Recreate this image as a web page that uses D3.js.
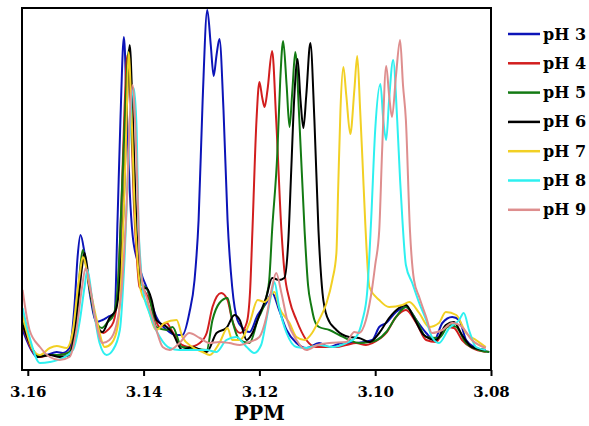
<!DOCTYPE html>
<html>
<head>
<meta charset="utf-8">
<script src="https://cdn.jsdelivr.net/npm/d3@7"></script>
<style>
  body { margin: 0; background: #fff; }
  svg text { font-family: "DejaVu Serif", serif; font-weight: bold; fill: #000; }
</style>
</head>
<body>
<div id="chart"></div>
<script>
// ----------------------------
// Data: [ppm, intensity]
// ----------------------------
var labels = ["pH 3", "pH 4", "pH 5", "pH 6", "pH 7", "pH 8", "pH 9"];
var colors = ["#0c14b8", "#d21e1e", "#137a13", "#000000", "#f2d024", "#2ef0f0", "#de8e8e"];
var xTicks = [3.16, 3.14, 3.12, 3.10, 3.08];

var pH3 = [[3.1609,40],[3.1591,17],[3.1584,13],[3.1567,15],[3.1550,18],[3.1540,17],[3.1528,22],[3.1519,67],[3.1514,113],[3.1509,135],[3.1502,117],[3.1493,77],[3.1481,48],[3.1471,50],[3.1462,53],[3.1450,57],[3.1445,150],[3.1440,250],[3.1434,333],[3.1429,260],[3.1424,180],[3.1419,135],[3.1410,108],[3.1402,93],[3.1395,83],[3.1378,53],[3.1360,40],[3.1343,35],[3.1333,35],[3.1321,57],[3.1312,90],[3.1305,150],[3.1298,270],[3.1290,360],[3.1284,325],[3.1279,294],[3.1274,315],[3.1269,331],[3.1262,260],[3.1255,150],[3.1247,83],[3.1238,50],[3.1229,42],[3.1217,38],[3.1203,55],[3.1188,67],[3.1178,77],[3.1166,60],[3.1153,40],[3.1136,27],[3.1119,22],[3.1097,27],[3.1079,23],[3.1057,27],[3.1033,27],[3.1005,30],[3.0993,43],[3.0981,47],[3.0964,58],[3.0947,63],[3.0929,50],[3.0912,37],[3.0898,30],[3.0884,47],[3.0867,53],[3.0855,50],[3.0843,30],[3.0826,22],[3.0803,18]];

var pH4 = [[3.1609,45],[3.1591,18],[3.1579,13],[3.1562,15],[3.1545,15],[3.1528,18],[3.1516,55],[3.1507,105],[3.1503,115],[3.1497,95],[3.1488,65],[3.1478,40],[3.1469,37],[3.1462,40],[3.1452,48],[3.1445,75],[3.1438,170],[3.1433,260],[3.1428,315],[3.1422,260],[3.1417,170],[3.1412,115],[3.1407,83],[3.1400,80],[3.1390,70],[3.1372,43],[3.1360,47],[3.1352,40],[3.1338,27],[3.1321,23],[3.1303,27],[3.1291,37],[3.1281,63],[3.1266,77],[3.1255,70],[3.1247,50],[3.1240,40],[3.1233,37],[3.1222,47],[3.1216,80],[3.1212,140],[3.1205,250],[3.1200,288],[3.1195,272],[3.1191,263],[3.1186,280],[3.1178,319],[3.1171,250],[3.1162,140],[3.1157,100],[3.1148,70],[3.1136,50],[3.1119,30],[3.1102,23],[3.1084,23],[3.1067,23],[3.1050,25],[3.1033,27],[3.1016,25],[3.1005,27],[3.0981,37],[3.0964,53],[3.0947,60],[3.0929,47],[3.0912,30],[3.0895,28],[3.0878,43],[3.0864,42],[3.0850,30],[3.0833,22],[3.0809,18]];

var pH5 = [[3.1609,48],[3.1591,20],[3.1579,14],[3.1562,15],[3.1545,15],[3.1528,18],[3.1516,55],[3.1509,105],[3.1505,120],[3.1498,100],[3.1490,70],[3.1479,45],[3.1472,42],[3.1462,48],[3.1452,55],[3.1445,80],[3.1438,170],[3.1431,270],[3.1426,320],[3.1421,260],[3.1416,170],[3.1410,115],[3.1405,87],[3.1393,80],[3.1378,43],[3.1360,40],[3.1350,43],[3.1334,23],[3.1316,22],[3.1291,20],[3.1281,50],[3.1269,67],[3.1255,72],[3.1247,50],[3.1234,30],[3.1217,27],[3.1203,50],[3.1188,73],[3.1183,90],[3.1178,140],[3.1169,217],[3.1164,290],[3.1159,329],[3.1153,285],[3.1148,243],[3.1143,280],[3.1138,318],[3.1131,250],[3.1122,140],[3.1116,85],[3.1110,63],[3.1105,50],[3.1097,43],[3.1079,40],[3.1062,35],[3.1045,30],[3.1028,27],[3.1010,28],[3.0997,30],[3.0981,38],[3.0964,53],[3.0947,63],[3.0929,50],[3.0912,33],[3.0890,32],[3.0872,45],[3.0860,43],[3.0843,27],[3.0821,20],[3.0803,18]];

var pH6 = [[3.1609,45],[3.1591,20],[3.1583,13],[3.1562,15],[3.1545,13],[3.1528,15],[3.1516,50],[3.1507,100],[3.1502,117],[3.1493,83],[3.1479,43],[3.1471,38],[3.1459,52],[3.1448,60],[3.1441,90],[3.1434,170],[3.1429,260],[3.1424,325],[3.1419,260],[3.1414,170],[3.1409,105],[3.1404,80],[3.1395,82],[3.1386,70],[3.1378,50],[3.1360,43],[3.1350,37],[3.1333,20],[3.1316,23],[3.1291,18],[3.1274,37],[3.1257,42],[3.1243,55],[3.1234,50],[3.1222,30],[3.1212,37],[3.1200,55],[3.1188,73],[3.1178,92],[3.1166,90],[3.1157,92],[3.1150,130],[3.1145,200],[3.1140,270],[3.1134,311],[3.1129,270],[3.1124,242],[3.1119,275],[3.1112,327],[3.1105,250],[3.1098,140],[3.1091,77],[3.1083,53],[3.1067,40],[3.1045,33],[3.1028,32],[3.1010,28],[3.0993,37],[3.0976,52],[3.0959,62],[3.0947,65],[3.0933,52],[3.0916,35],[3.0895,30],[3.0878,45],[3.0864,48],[3.0850,35],[3.0833,23],[3.0809,20]];

var pH7 = [[3.1609,55],[3.1591,20],[3.1579,15],[3.1562,22],[3.1550,24],[3.1533,22],[3.1522,40],[3.1514,80],[3.1510,97],[3.1505,113],[3.1493,83],[3.1481,50],[3.1467,23],[3.1455,27],[3.1445,43],[3.1438,100],[3.1433,180],[3.1429,260],[3.1426,318],[3.1421,260],[3.1416,170],[3.1410,105],[3.1405,80],[3.1395,67],[3.1378,40],[3.1364,47],[3.1343,50],[3.1333,33],[3.1316,23],[3.1298,18],[3.1286,15],[3.1269,27],[3.1255,42],[3.1247,30],[3.1234,30],[3.1217,47],[3.1203,70],[3.1191,68],[3.1174,78],[3.1166,63],[3.1148,47],[3.1136,33],[3.1122,30],[3.1109,37],[3.1097,50],[3.1084,67],[3.1074,90],[3.1067,117],[3.1064,180],[3.1060,260],[3.1055,303],[3.1050,275],[3.1043,236],[3.1036,280],[3.1031,314],[3.1026,260],[3.1022,210],[3.1017,145],[3.1010,83],[3.0993,70],[3.0976,63],[3.0953,65],[3.0941,68],[3.0924,57],[3.0907,43],[3.0890,47],[3.0878,58],[3.0860,55],[3.0843,37],[3.0826,30],[3.0809,23]];

var pH8 = [[3.1609,62],[3.1597,33],[3.1579,7],[3.1562,8],[3.1540,12],[3.1522,20],[3.1510,50],[3.1502,83],[3.1497,100],[3.1488,67],[3.1476,27],[3.1464,15],[3.1453,20],[3.1441,40],[3.1433,110],[3.1426,210],[3.1422,260],[3.1417,282],[3.1412,240],[3.1409,150],[3.1405,105],[3.1402,83],[3.1390,57],[3.1372,33],[3.1355,22],[3.1338,20],[3.1316,20],[3.1291,20],[3.1274,18],[3.1257,30],[3.1240,33],[3.1222,23],[3.1209,17],[3.1197,25],[3.1188,50],[3.1179,77],[3.1174,88],[3.1166,63],[3.1153,37],[3.1136,23],[3.1119,22],[3.1097,25],[3.1074,23],[3.1050,27],[3.1033,33],[3.1022,50],[3.1014,77],[3.1007,150],[3.1000,240],[3.0991,286],[3.0986,250],[3.0981,230],[3.0976,270],[3.0969,310],[3.0962,250],[3.0957,190],[3.0953,150],[3.0947,105],[3.0936,87],[3.0924,67],[3.0912,50],[3.0902,33],[3.0890,27],[3.0872,42],[3.0855,50],[3.0847,57],[3.0838,40],[3.0826,23],[3.0809,20]];

var pH9 = [[3.1609,80],[3.1597,40],[3.1579,23],[3.1562,13],[3.1545,10],[3.1528,13],[3.1516,40],[3.1507,80],[3.1500,102],[3.1493,85],[3.1483,50],[3.1471,27],[3.1459,30],[3.1447,45],[3.1438,80],[3.1429,170],[3.1424,250],[3.1419,285],[3.1414,240],[3.1410,170],[3.1407,115],[3.1402,87],[3.1395,73],[3.1378,40],[3.1367,23],[3.1355,20],[3.1338,27],[3.1321,37],[3.1303,32],[3.1286,27],[3.1269,28],[3.1252,27],[3.1234,25],[3.1217,28],[3.1200,33],[3.1188,53],[3.1178,83],[3.1171,97],[3.1162,77],[3.1152,50],[3.1136,30],[3.1119,20],[3.1100,25],[3.1079,27],[3.1050,28],[3.1036,38],[3.1028,37],[3.1016,50],[3.1005,83],[3.1000,105],[3.0993,140],[3.0988,220],[3.0981,304],[3.0976,275],[3.0971,253],[3.0964,295],[3.0957,330],[3.0952,285],[3.0947,250],[3.0940,140],[3.0933,90],[3.0924,73],[3.0912,53],[3.0902,37],[3.0884,40],[3.0867,47],[3.0850,43],[3.0833,30],[3.0809,22]];

var spectra = [pH3, pH4, pH5, pH6, pH7, pH8, pH9];

// ----------------------------
// Layout
// ----------------------------
var W = 589, H = 426;
var plot = { left: 22, right: 491, top: 8, bottom: 370 };

var svg = d3.select("#chart").append("svg")
  .attr("width", W)
  .attr("height", H);

var x = d3.scaleLinear().domain([3.161, 3.08]).range([plot.left, plot.right]);
var y = d3.scaleLinear().domain([0, 362]).range([plot.bottom, plot.top]);

svg.append("clipPath").attr("id", "clip")
  .append("rect")
  .attr("x", plot.left).attr("y", plot.top)
  .attr("width", plot.right - plot.left).attr("height", plot.bottom - plot.top);

var line = d3.line()
  .x(d => x(d[0]))
  .y(d => y(d[1]))
  .curve(d3.curveMonotoneX);

svg.append("g").attr("clip-path", "url(#clip)")
  .selectAll("path")
  .data(spectra)
  .enter()
  .append("path")
  .attr("d", line)
  .attr("fill", "none")
  .attr("stroke", (d, i) => colors[i])
  .attr("stroke-width", 2)
  .attr("stroke-linejoin", "round");

// frame
svg.append("rect")
  .attr("x", plot.left).attr("y", plot.top)
  .attr("width", plot.right - plot.left).attr("height", plot.bottom - plot.top)
  .attr("fill", "none")
  .attr("stroke", "#000")
  .attr("stroke-width", 2);

// x axis
var axis = svg.append("g")
  .attr("transform", `translate(0,${plot.bottom})`)
  .call(d3.axisBottom(x).tickValues(xTicks).tickFormat(d3.format(".2f")).tickSize(6));
axis.select(".domain").remove();
axis.selectAll("line").attr("stroke", "#000").attr("stroke-width", 2);
axis.selectAll("text")
  .attr("y", 27).attr("dy", null)
  .style("font-family", '"DejaVu Serif", serif')
  .style("font-weight", "bold")
  .style("font-size", "15px");

svg.append("text")
  .attr("x", x(3.12))
  .attr("y", 420)
  .attr("text-anchor", "middle")
  .style("font-size", "19.5px")
  .text("PPM");

// legend
var legend = svg.append("g").selectAll("g")
  .data(labels)
  .enter()
  .append("g")
  .attr("transform", (d, i) => `translate(508,${34 + i * 29.3})`);

legend.append("line")
  .attr("x1", 0).attr("x2", 32)
  .attr("stroke", (d, i) => colors[i])
  .attr("stroke-width", 2.5);

legend.append("text")
  .attr("x", 35).attr("y", 5.5)
  .style("font-size", "16px")
  .text(d => d);
</script>
</body>
</html>
